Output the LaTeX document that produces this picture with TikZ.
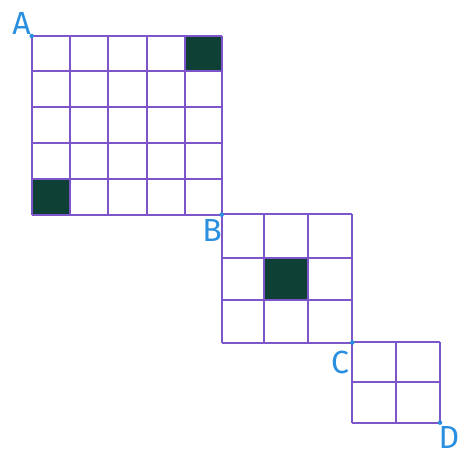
\documentclass[tikz,border=0pt]{standalone}
\usepackage{fontspec}
\setmainfont{Fira Sans}
\definecolor{gridc}{HTML}{7B55C9}
\definecolor{fillc}{HTML}{0F4036}
\definecolor{labc}{HTML}{2A8FDF}
\begin{document}
\begin{tikzpicture}[x=1pt,y=-1pt,
  gridline/.style={draw=gridc,line width=1.8pt},
  cellfill/.style={fill=fillc},
  lab/.style={text=labc,font=\fontsize{32}{32}\selectfont,inner sep=0pt},
  dotc/.style={fill=labc,circle,inner sep=0pt,minimum size=4.5pt}]
\useasboundingbox (0,0) rectangle (474,460);
% filled cells
\fill[cellfill] (185,36) rectangle (221.7,71);
\fill[cellfill] (31.7,179.3) rectangle (70,215);
\fill[cellfill] (264.3,257.7) rectangle (307.7,300);
% grid 1
\foreach \x in {31.7,70,108.3,146.7,185,221.7} \draw[gridline] (\x,36) -- (\x,215);
\foreach \y in {36,71,107.3,143.3,179.3,215} \draw[gridline] (31.7,\y) -- (221.7,\y);
% grid 2
\foreach \x in {221.7,264.3,307.7,352.3} \draw[gridline] (\x,214.3) -- (\x,342.7);
\foreach \y in {214.3,257.7,300,342.7} \draw[gridline] (221.7,\y) -- (352.3,\y);
% grid 3
\foreach \x in {352.3,396,440} \draw[gridline] (\x,342.3) -- (\x,422.7);
\foreach \y in {342.3,382.3,422.7} \draw[gridline] (352.3,\y) -- (440,\y);
% dots
\node[dotc] (pA) at (31.7,36) {};
\node[dotc] (pB) at (221.7,214.7) {};
\node[dotc] (pC) at (352.3,342.5) {};
\node[dotc] (pD) at (440,422.7) {};
% labels
\node[lab] (A) at (21.5,23.5) {A};
\node[lab] (B) at (212,230.5) {B};
\node[lab] (C) at (340,362.5) {C};
\node[lab] (D) at (449,437.5) {D};
\end{tikzpicture}
\end{document}
